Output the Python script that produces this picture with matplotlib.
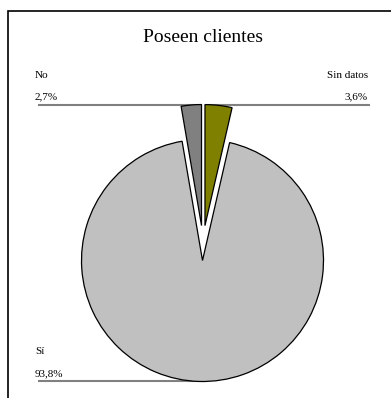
import matplotlib.pyplot as plt
from matplotlib.patches import Rectangle

# Datos de la encuesta
categorias = ["Sin datos", "Sí", "No"]
porcentajes = [3.6, 93.8, 2.7]
colores = ["#808000", "#C0C0C0", "#808080"]

ancho, alto = 391, 398
fig = plt.figure(figsize=(ancho / 100, alto / 100), dpi=100)
ax = fig.add_axes([0, 0, 1, 1])

radio = 121
centro = (203, alto - 243)
# explode va en unidades de datos porque el radio no es 1
separacion = [17.5, 17.5, 17.5]
cunas, _ = ax.pie(porcentajes, colors=colores, explode=separacion, startangle=90,
                  counterclock=False, radius=radio, center=centro,
                  wedgeprops=dict(edgecolor="black", linewidth=0.9),
                  frame=True)
ax.set_xlim(0, ancho)
ax.set_ylim(0, alto)
ax.axis("off")

# Marco del gráfico (cortado por la derecha y por abajo)
fig.patches.append(Rectangle((8 / ancho, -0.1), 1.2, (alto - 11) / alto + 0.1,
                             transform=fig.transFigure, fill=False,
                             edgecolor="black", linewidth=1.2))

fuente = "Liberation Serif"
ax.text(203, alto - 37, "Poseen clientes", ha="center", va="center",
        fontsize=14, family=fuente)

def etiqueta(nombre, valor, cuna, lado, arriba):
    cx, cy = cuna.center
    y_linea = cy + radio if arriba else cy - radio
    x_txt = 35 if lado == "izq" else 368
    ha = "left" if lado == "izq" else "right"
    x_fin = 38 if lado == "izq" else 370
    ax.plot([x_fin, cx], [y_linea, y_linea], color="#808080", lw=1.5,
            solid_capstyle="butt", zorder=0)
    texto_pct = f"{valor:.1f}".replace(".", ",") + "%"
    ax.text(x_txt, y_linea + 5, texto_pct, ha=ha, va="baseline",
            fontsize=8, family=fuente)
    ax.text(x_txt, y_linea + 27, nombre, ha=ha, va="baseline",
            fontsize=8, family=fuente)

etiqueta(categorias[0], porcentajes[0], cunas[0], "der", True)
etiqueta(categorias[2], porcentajes[2], cunas[2], "izq", True)
etiqueta(categorias[1], porcentajes[1], cunas[1], "izq", False)

fig.savefig("out.png", dpi=100, facecolor="white")
